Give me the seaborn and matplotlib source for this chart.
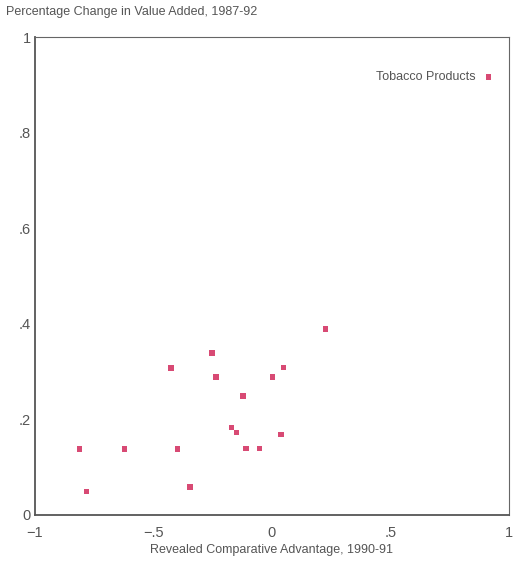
import numpy as np
import pandas as pd
import matplotlib
matplotlib.use("Agg")
import matplotlib.pyplot as plt
import seaborn as sns

# values
rca = [-0.813, -0.782, -0.622, -0.426, -0.399, -0.346, -0.252, -0.235, -0.122,
       -0.170, -0.150, -0.109, -0.052, 0.003, 0.049, 0.039, 0.227, 0.914]
value_added = [0.138, 0.049, 0.138, 0.308, 0.138, 0.058, 0.339, 0.289, 0.249,
               0.183, 0.173, 0.139, 0.139, 0.289, 0.309, 0.168, 0.389, 0.917]
labels = [""] * 17 + ["Tobacco Products"]

xticks = [-1, -0.5, 0, 0.5, 1]
xtick_labels = ["\u22121", "\u2212.5", "0", ".5", "1"]
yticks = [0, 0.2, 0.4, 0.6, 0.8, 1]
ytick_labels = ["0", ".2", ".4", ".6", ".8", "1"]

df = pd.DataFrame({"rca": rca, "va": value_added, "label": labels})

sns.set_style("white")
plt.rcParams["font.family"] = ["Liberation Sans", "DejaVu Sans"]
txt = "#555555"
dot = "#d84a74"

fig = plt.figure(figsize=(5.15, 5.64), dpi=100)
ax = fig.add_axes([0.068, 0.087, 0.920, 0.847])

sns.scatterplot(data=df, x="rca", y="va", marker="s", s=16, color=dot,
                edgecolor="none", ax=ax)

# label for the outlier point
for _, r in df[df["label"] != ""].iterrows():
    ax.annotate(r["label"], (r["rca"], r["va"]), xytext=(-9, 0),
                textcoords="offset points", ha="right", va="center",
                fontsize=9, color=txt)

ax.set_xlim(-1, 1)
ax.set_ylim(0, 1)
ax.set_xticks(xticks)
ax.set_xticklabels(xtick_labels)
ax.set_yticks(yticks)
ax.set_yticklabels(ytick_labels)
ax.tick_params(direction="in", length=5, width=0.8, colors="#666666",
               labelcolor=txt, labelsize=10.5)
ax.tick_params(axis="y", pad=3)
ax.tick_params(axis="x", pad=8)
ax.set_xlabel("Revealed Comparative Advantage, 1990-91", fontsize=9,
              color=txt, labelpad=3)
ax.set_ylabel("")

for side in ["top", "right"]:
    ax.spines[side].set_linewidth(0.8)
    ax.spines[side].set_color("#666666")
for side in ["left", "bottom"]:
    ax.spines[side].set_linewidth(1.3)
    ax.spines[side].set_color("#555555")

fig.text(0.012, 0.978, "Percentage Change in Value Added, 1987-92",
         fontsize=9, color=txt, ha="left", va="center")

fig.savefig("out.png", dpi=100)
